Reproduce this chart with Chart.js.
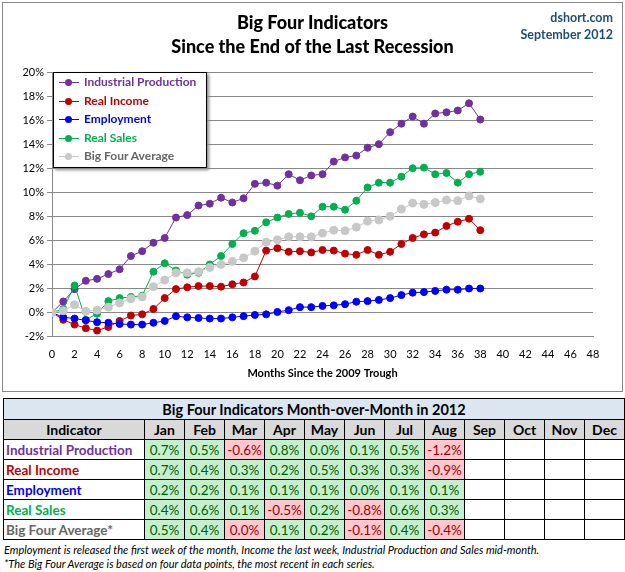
<!DOCTYPE html>
<html><head><meta charset="utf-8">
<script src="https://cdn.jsdelivr.net/npm/chart.js@4"></script>
<style>
body{margin:0;width:625px;height:572px;background:#fff;font-family:Lato,"Open Sans",sans-serif;position:relative;overflow:hidden}
#frame{position:absolute;left:2px;top:2px;width:619px;height:388px;border:1px solid #888}
#title{position:absolute;left:0;width:625px;top:10px;text-align:center;font-weight:900;font-size:18px;line-height:24px;color:#000}
#src{position:absolute;right:12px;top:9px;text-align:right;font-weight:bold;font-size:12.5px;line-height:17px;color:#1f4e79}
#legend{position:absolute;left:53px;top:72px;width:152px;height:94px;border:1px solid #000;background:#fff;box-shadow:2px 2px 3px #888;font-size:12px;font-weight:bold}
#legend div{height:18.5px;line-height:18.5px;position:relative;padding-left:30px}
#legend span{position:absolute;left:5px;top:9px;width:20px;height:1px}
#legend i{position:absolute;left:6px;top:-3px;width:7px;height:7px;border-radius:50%}
table{position:absolute;left:3px;top:398px;border-collapse:collapse;font-size:13.5px}
td,th{border:1px solid #000;height:19px;padding:0;text-align:center}
th{background:#d9d9d9;font-weight:bold}
td.n{width:39px;font-weight:normal}
td.lab{text-align:left;padding-left:2px;font-weight:bold;width:138px}
#notes{position:absolute;left:4px;top:543px;font-size:11px;font-style:italic;line-height:14px}
</style></head><body>
<div id="frame"></div>
<canvas id="c" width="619" height="388" style="position:absolute;left:3px;top:3px;width:619px;height:388px"></canvas>
<div id="title">Big Four Indicators<br>Since the End of the Last Recession</div>
<div id="src">dshort.com<br>September 2012</div>
<div id="legend"></div>
<table id="tbl"></table>
<div id="notes">Employment is released the first week of the month, Income the last week, Industrial Production and Sales mid-month.<br>*The Big Four Average is based on four data points, the most recent in each series.</div>
<script>
var months = [];
for (let i = 0; i <= 38; i++) months.push(i);

var industrial = [0,0.92,1.94,2.64,2.8,3.2,3.6,4.7,5.1,5.8,6.2,7.9,8.1,8.9,9.05,9.55,9.15,9.5,10.7,10.8,10.55,11.5,11.0,11.4,11.5,12.55,12.9,13.05,13.7,14.0,15.0,15.7,16.3,15.7,16.55,16.65,16.8,17.4,16.05];
var income = [0,-0.6,-1.0,-1.3,-1.5,-1.2,-0.7,-0.25,-0.15,0.3,1.2,1.95,2.1,2.2,2.2,2.15,2.35,2.5,3.0,5.15,5.35,5.05,5.1,5.0,5.2,5.15,4.9,4.8,5.2,4.8,5.05,5.7,6.2,6.5,6.65,7.2,7.55,7.8,6.85];
var employment = [0,-0.4,-0.5,-0.65,-0.8,-0.85,-0.95,-1.0,-1.0,-0.85,-0.7,-0.3,-0.4,-0.45,-0.5,-0.5,-0.4,-0.3,-0.2,-0.15,0.05,0.2,0.45,0.45,0.55,0.6,0.7,0.9,0.95,1.05,1.2,1.45,1.65,1.7,1.8,1.9,1.9,2.0,2.0];
var sales = [0,0.3,2.25,-0.6,-0.1,0.95,1.2,1.3,1.4,3.4,4.1,3.5,3.15,3.3,4.0,4.7,5.7,6.6,6.8,7.5,7.9,8.2,8.3,8.0,8.8,8.8,8.55,9.3,10.4,10.8,10.8,11.3,12.0,12.05,11.5,11.6,10.8,11.5,11.7];
var average = [0,0.15,0.65,0.1,0.2,0.45,0.8,1.15,1.3,2.15,2.7,3.3,3.3,3.4,3.75,4.0,4.25,4.55,5.1,5.85,6.05,6.3,6.3,6.3,6.6,6.85,6.8,7.1,7.6,7.7,8.0,8.6,9.1,9.0,9.15,9.35,9.3,9.7,9.45];

var seriesNames = ["Industrial Production","Real Income","Employment","Real Sales","Big Four Average"];
var seriesColors = ["#7030a0","#c00000","#0000ff","#00b050","#c8c8c8"];
var textColors = ["#7030a0","#c00000","#0000ff","#00b050","#666666"];

var tableMonths = ["Jan","Feb","Mar","Apr","May","Jun","Jul","Aug","Sep","Oct","Nov","Dec"];
var tblIndustrial = ["0.7%","0.5%","-0.6%","0.8%","0.0%","0.1%","0.5%","-1.2%"];
var tblIncome = ["0.7%","0.4%","0.3%","0.2%","0.5%","0.3%","0.3%","-0.9%"];
var tblEmployment = ["0.2%","0.2%","0.1%","0.1%","0.1%","0.0%","0.1%","0.1%"];
var tblSales = ["0.4%","0.6%","0.1%","-0.5%","0.2%","-0.8%","0.6%","0.3%"];
var tblAverage = ["0.5%","0.4%","0.0%","0.1%","0.2%","-0.1%","0.4%","-0.4%"];
var tblAverageDown = [false,false,true,false,false,false,false,false]; // Mar rounds to 0.0 but is negative

var legend = document.getElementById("legend");
seriesNames.forEach(function (n, i) {
  legend.innerHTML += '<div style="color:' + textColors[i] + '"><span style="background:' + seriesColors[i] + '"><i style="background:' + seriesColors[i] + '"></i></span>' + n + '</div>';
});

var tbl = document.getElementById("tbl");
var html = '<tr><th colspan="13" style="background:#dce6f1;font-size:14.5px;height:20px">Big Four Indicators Month-over-Month in 2012</th></tr><tr><th style="font-size:14px">Indicator</th>';
tableMonths.forEach(function (m) { html += '<th style="width:39px;font-size:14px">' + m + '</th>'; });
html += '</tr>';
[tblIndustrial, tblIncome, tblEmployment, tblSales, tblAverage].forEach(function (row, r) {
  html += '<tr><td class="lab" style="color:' + textColors[r] + '">' + seriesNames[r] + (r == 4 ? '*' : '') + '</td>';
  for (let k = 0; k < 12; k++) {
    var v = row[k];
    if (v === undefined) { html += '<td class="n"></td>'; continue; }
    var down = v.charAt(0) == '-' || (r == 4 && tblAverageDown[k]);
    html += '<td class="n" style="background:' + (down ? '#ffc7ce' : '#c6efce') + ';color:' + (down ? '#9c0006' : '#006100') + '">' + v + '</td>';
  }
  html += '</tr>';
});
tbl.innerHTML = html;

function mk(data, i) {
  return {
    label: seriesNames[i],
    data: data.map(function (v, k) { return { x: months[k], y: v }; }),
    borderColor: seriesColors[i],
    backgroundColor: seriesColors[i],
    borderWidth: 1,
    pointRadius: i == 4 ? 4 : 3.5,
    showLine: true
  };
}

new Chart(document.getElementById("c"), {
  type: "scatter",
  data: { datasets: [mk(average, 4), mk(employment, 2), mk(income, 1), mk(sales, 3), mk(industrial, 0)] },
  options: {
    responsive: false,
    animation: false,
    layout: { padding: { top: 69, right: 29, bottom: 7, left: 2 } },
    plugins: { legend: { display: false }, tooltip: { enabled: false } },
    scales: {
      x: {
        min: 0, max: 48,
        ticks: { stepSize: 2, color: "#000", font: { family: "Lato", size: 11 }, maxRotation: 0 },
        grid: { display: false },
        border: { color: "#888" },
        title: { display: true, text: "Months Since the 2009 Trough", color: "#000", font: { family: "Lato", size: 11, weight: "bold" }, padding: { top: 3 } }
      },
      y: {
        min: -2, max: 20,
        afterFit: function (s) { s.width = 47; },
        ticks: { stepSize: 2, color: "#000", font: { family: "Lato", size: 11 }, callback: function (v) { return v + "%"; } },
        grid: { color: "#888", drawTicks: true, tickLength: 5 },
        border: { color: "#888" }
      }
    }
  }
});
</script>
</body></html>
